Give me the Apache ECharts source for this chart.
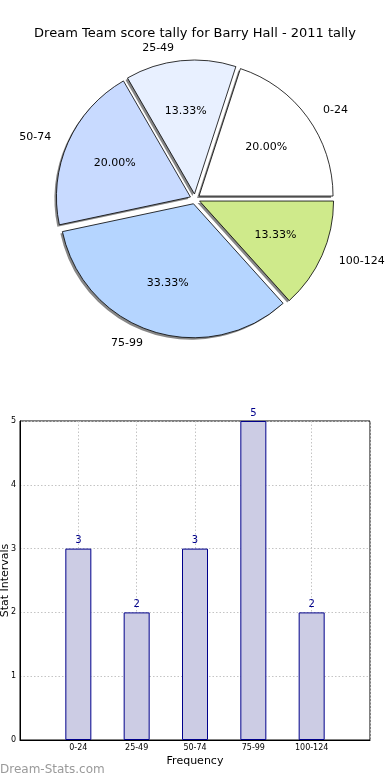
<!DOCTYPE html>
<html>
<head>
<meta charset="utf-8">
<style>
html,body{margin:0;padding:0;background:#fff;}
#chart{width:390px;height:780px;}
</style>
<script src="https://cdn.jsdelivr.net/npm/echarts@6/dist/echarts.min.js"></script>
</head>
<body>
<div id="chart"></div>
<script>
const titleText = 'Dream Team score tally for Barry Hall - 2011 tally';
const categories = ['0-24', '25-49', '50-74', '75-99', '100-124'];
const counts = [3, 2, 3, 5, 2];
const percentLabels = ['20.00%', '13.33%', '20.00%', '33.33%', '13.33%'];
const sliceColors = ['#ffffff', '#e8f0ff', '#c8daff', '#b5d5ff', '#cfea8b'];
const yTicks = [0, 1, 2, 3, 4, 5];
const xName = 'Frequency';
const yName = 'Stat Intervals';
const watermark = 'Dream-Stats.com';

const FONT = 'DejaVu Sans';

const pieData = categories.map((c, i) => ({
  name: c,
  value: counts[i],
  selected: true,
  itemStyle: { color: sliceColors[i] }
}));
const shadowData = categories.map((c, i) => ({
  name: c,
  value: counts[i],
  selected: true
}));
const pctData = categories.map((c, i) => ({
  name: c,
  value: counts[i],
  selected: true,
  label: { formatter: percentLabels[i] }
}));

const xCats = [''].concat(categories, ['']);
const barData = [null].concat(counts, [null]);

const R = 134;
const CX = 195, CY = 199;

const chart = echarts.init(document.getElementById('chart'), null, { renderer: 'canvas' });
chart.setOption({
  animation: false,
  backgroundColor: '#ffffff',
  title: {
    text: titleText,
    left: 'center',
    top: 22,
    textStyle: { fontFamily: FONT, fontSize: 13, fontWeight: 'normal', color: '#000' }
  },
  graphic: [{
    type: 'text',
    left: 0,
    top: 764,
    style: { text: watermark, fontFamily: FONT, fontSize: 12, fill: '#9a9a9a' }
  }],
  grid: {
    left: 20, right: 20, top: 421, bottom: 40,
    containLabel: false,
    outerBoundsMode: 'none',
    show: true, borderColor: '#000', borderWidth: 1, backgroundColor: 'transparent'
  },
  xAxis: {
    type: 'category',
    data: xCats,
    boundaryGap: false,
    name: xName,
    nameLocation: 'middle',
    nameGap: 16,
    nameMoveOverlap: false,
    nameTextStyle: { fontFamily: FONT, fontSize: 11, color: '#000' },
    axisLine: { show: true, lineStyle: { color: '#000' } },
    axisTick: { show: false },
    axisLabel: { fontFamily: FONT, fontSize: 8, color: '#000', margin: 4, interval: 0 },
    splitLine: { show: true, lineStyle: { color: '#c4c4c4', type: [1.5, 2], width: 1 } }
  },
  yAxis: {
    type: 'value',
    min: 0, max: 5, interval: 1,
    name: yName,
    nameLocation: 'middle',
    nameGap: 9,
    nameMoveOverlap: false,
    nameTextStyle: { fontFamily: FONT, fontSize: 11, color: '#000' },
    axisLine: { show: true, lineStyle: { color: '#000' } },
    axisTick: { show: false },
    axisLabel: { fontFamily: FONT, fontSize: 8, color: '#000', margin: 4,
      formatter: v => yTicks.includes(v) ? String(v) : '' },
    splitLine: { show: true, lineStyle: { color: '#c4c4c4', type: [1.5, 2], width: 1 } }
  },
  series: [
    {
      type: 'pie',
      center: [CX - 2, CY + 2],
      radius: [0, R],
      startAngle: 0,
      clockwise: false,
      avoidLabelOverlap: false,
      selectedMode: 'multiple',
      selectedOffset: 5,
      silent: true,
      z: 1,
      emphasis: { disabled: true },
      itemStyle: { color: 'rgba(95,95,95,0.75)', borderWidth: 0 },
      label: { show: false },
      labelLine: { show: false },
      data: shadowData
    },
    {
      type: 'pie',
      center: [CX, CY],
      radius: [0, R],
      startAngle: 0,
      clockwise: false,
      avoidLabelOverlap: false,
      selectedMode: 'multiple',
      selectedOffset: 5,
      z: 2,
      emphasis: { disabled: true },
      itemStyle: { borderColor: '#000', borderWidth: 0.8 },
      label: { show: true, position: 'outside', fontFamily: FONT, fontSize: 11, color: '#000' },
      labelLine: { show: false, length: 13, length2: 0 },
      data: pieData
    },
    {
      type: 'pie',
      center: [CX, CY],
      radius: [26, R],
      startAngle: 0,
      clockwise: false,
      avoidLabelOverlap: false,
      selectedMode: 'multiple',
      selectedOffset: 5,
      silent: true,
      z: 3,
      emphasis: { disabled: true },
      itemStyle: { color: 'rgba(0,0,0,0)', borderWidth: 0 },
      label: { show: true, position: 'inside', fontFamily: FONT, fontSize: 11, color: '#000' },
      labelLine: { show: false },
      data: pctData
    },
    {
      type: 'bar',
      data: barData,
      barWidth: 26,
      itemStyle: { color: '#cccce4', borderColor: '#00008b', borderWidth: 1 },
      label: { show: true, position: 'top', distance: 3, fontFamily: FONT, fontSize: 10, color: '#00008b' },
      emphasis: { disabled: true }
    }
  ]
});
</script>
</body>
</html>
